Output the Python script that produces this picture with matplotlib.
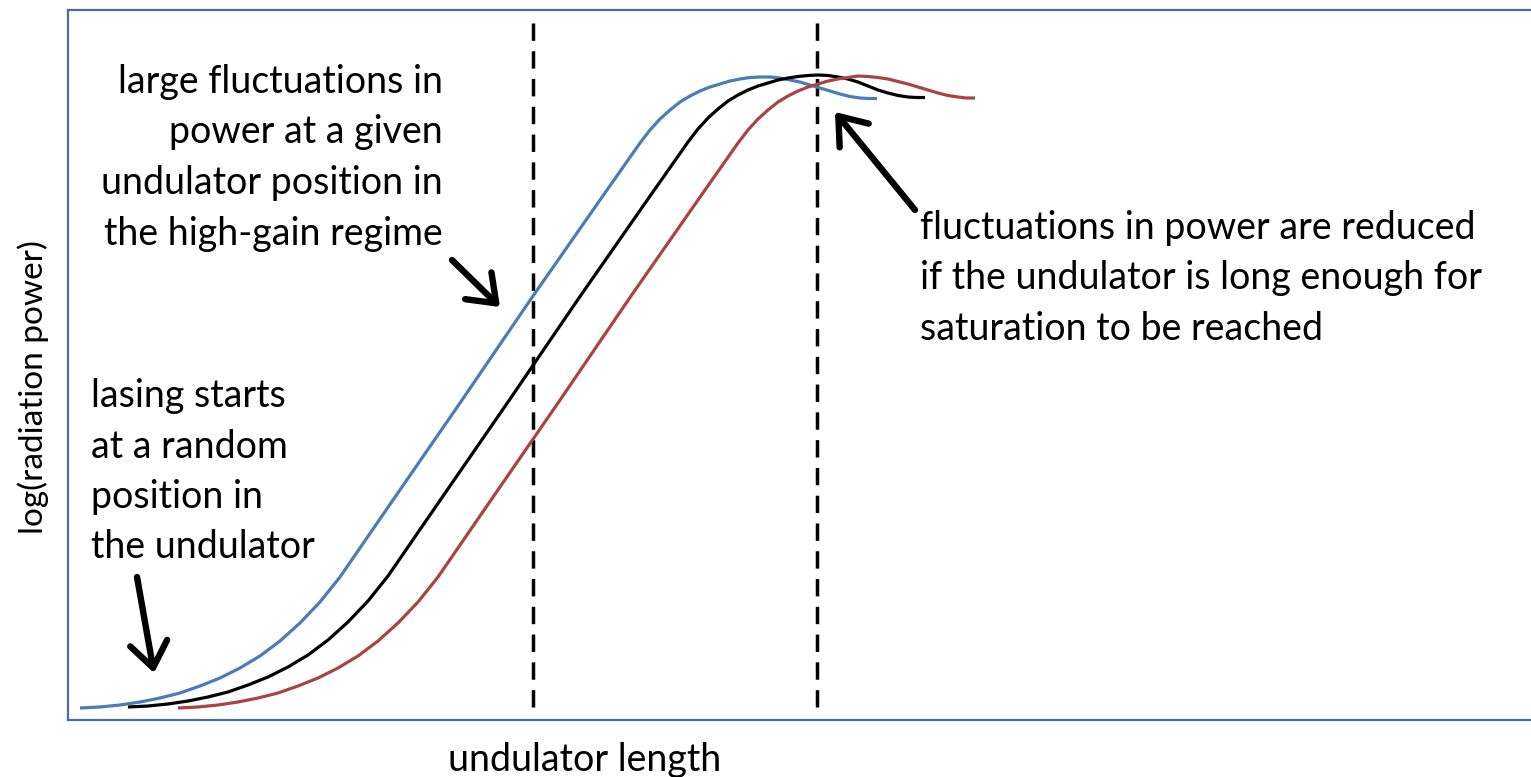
import numpy as np
import matplotlib
matplotlib.use("Agg")
import matplotlib.pyplot as plt

plt.rcParams['font.family'] = ['Lato', 'DejaVu Sans']

# undulator length (arbitrary units) vs log(radiation power) (arbitrary units)
blue_x = [12, 32, 52, 72, 92, 112, 132, 152, 172, 192, 212, 232, 252, 272,
          325, 392, 465, 532, 572,
          582, 592, 602, 612, 622, 632, 642, 652, 662, 672, 682, 692, 702, 712,
          722, 732, 742, 752, 762, 772, 782, 792, 800, 809]
blue_y = [12, 13, 15, 18, 22, 27, 34, 42, 52, 64, 79, 97, 118, 143,
          220, 317, 424, 520, 577,
          590, 601, 610, 618, 624, 629, 633, 636, 639, 641, 642.5, 643, 643, 642,
          640, 638, 635, 632, 629, 626, 623.5, 622, 621.5, 621.5]

black_x = [60, 80, 100, 120, 140, 160, 180, 200, 220, 240, 260, 280, 300, 320,
           373, 440, 513, 580, 620,
           630, 640, 650, 660, 670, 680, 690, 700, 710, 720, 730, 740, 750, 760,
           770, 780, 790, 800, 810, 820, 830, 840, 848, 857]
black_y = [13, 14, 16, 19, 23, 28, 35, 43, 53, 65, 80, 98, 119, 144,
           221, 318, 425, 521, 578,
           591, 602, 611, 619, 625, 630, 634, 637, 640, 642, 643.5, 644.5, 645, 644.5,
           643, 641, 638, 634, 630, 627, 624.5, 623, 622.5, 622.5]

red_x = [110, 130, 150, 170, 190, 210, 230, 250, 270, 290, 310, 330, 350, 370,
         423, 490, 563, 630, 670,
         680, 690, 700, 710, 720, 730, 740, 750, 760, 770, 780, 790, 800, 810,
         820, 830, 840, 850, 860, 870, 880, 890, 898, 907]
red_y = [12, 13, 15, 18, 22, 27, 34, 42, 52, 64, 79, 97, 118, 143,
         220, 317, 424, 520, 577,
         590, 601, 610, 618, 624, 629, 633, 636, 639, 641, 642.5, 644, 643.5, 642.5,
         641, 638.5, 636, 633, 630, 627, 624.5, 623, 622, 622]

# positions of the two dashed markers along the undulator
marker_x = [465, 749]

fig = plt.figure(figsize=(15.31, 7.77), dpi=100)
ax = fig.add_axes([68 / 1531, 57 / 777, 1467 / 1531, 710 / 777])
ax.set_xlim(0, 1467)
ax.set_ylim(0, 710)
ax.set_xticks([])
ax.set_yticks([])
for s in ax.spines.values():
    s.set_color('#4A6D9C')
    s.set_linewidth(1.6)

for mx in marker_x:
    ax.plot([mx, mx], [13, 700], color='black', lw=2.5, linestyle=(0, (5, 3)))

ax.plot(blue_x, blue_y, color='#4A7CB5', lw=2.3, solid_capstyle='butt', solid_joinstyle='round')
ax.plot(black_x, black_y, color='black', lw=2.3, solid_capstyle='butt', solid_joinstyle='round')
ax.plot(red_x, red_y, color='#A84441', lw=2.3, solid_capstyle='butt', solid_joinstyle='round')

fs = 27
ls = 1.5
arrow_kw = dict(arrowstyle='->,head_length=0.6,head_width=0.45', lw=4.6, color='black',
                mutation_scale=30, shrinkA=0, shrinkB=0)

ax.text(375, 656, "large fluctuations in\npower at a given\nundulator position in\nthe high-gain regime",
        ha='right', va='top', multialignment='right', fontsize=fs, linespacing=ls)
ax.annotate('', xy=(432, 413), xytext=(384, 460), arrowprops=arrow_kw)

ax.text(23, 342, "lasing starts\nat a random\nposition in\nthe undulator",
        ha='left', va='top', fontsize=fs, linespacing=ls)
ax.annotate('', xy=(86, 47), xytext=(69, 143), arrowprops=arrow_kw)

ax.text(852, 510, "fluctuations in power are reduced\nif the undulator is long enough for\nsaturation to be reached",
        ha='left', va='top', fontsize=fs, linespacing=ls)
ax.annotate('', xy=(767, 608), xytext=(847, 510), arrowprops=arrow_kw)

fig.text(585 / 1531, 1 - 760 / 777, "undulator length", ha='center', va='center', fontsize=fs)
fig.text(33 / 1531, 1 - 387 / 777, "log(radiation power)", ha='center', va='center',
         rotation=90, fontsize=24)

fig.savefig("out.png", dpi=100)
